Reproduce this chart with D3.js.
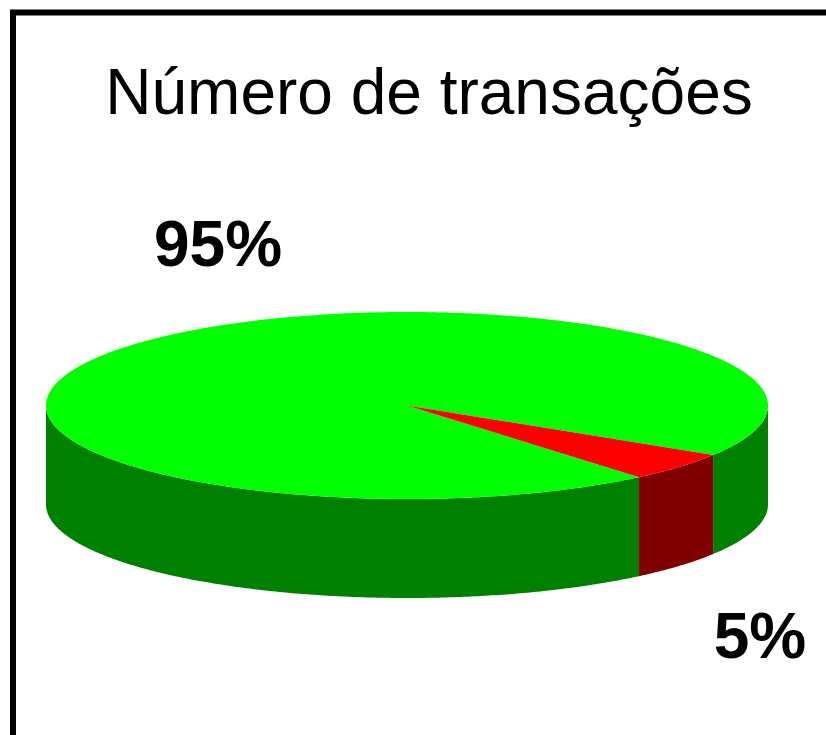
<!DOCTYPE html>
<html>
<head>
<meta charset="utf-8">
<script src="https://cdn.jsdelivr.net/npm/d3@7"></script>
<style>
html, body { margin: 0; padding: 0; background: #fff; overflow: hidden; }
svg { display: block; }
text { font-family: "Liberation Sans", Arial, sans-serif; fill: #000; }
</style>
</head>
<body>
<script>
const width = 826
const height = 735

const title = "Número de transações"
const categories = ["95%", "5%"]
const shares = [95, 5]
const topColors = ["#00ff00", "#ff0000"]
const sideColors = ["#008000", "#800000"]

const cx = 407, cy = 405.5, rx = 361, ry = 93.5, depth = 99
const redEnd = 140 * Math.PI / 180

const svg = d3.select("body").append("svg")
  .attr("width", width)
  .attr("height", height)

svg.append("rect")
  .attr("x", 13)
  .attr("y", 12.5)
  .attr("width", width + 20)
  .attr("height", height + 20)
  .attr("fill", "#fff")
  .attr("stroke", "#000")
  .attr("stroke-width", 6)

const pie = d3.pie().sort(null).startAngle(redEnd).endAngle(redEnd + 2 * Math.PI)
const slices = pie(shares)

const xs = d3.scaleLinear().domain([-1, 1]).range([cx - rx, cx + rx])
const ys = d3.scaleLinear().domain([-1, 1]).range([cy - ry, cy + ry])

const rim = a => [xs(Math.sin(a)), ys(-Math.cos(a))]
const line = d3.line()

// front wall: only the part of each slice facing the viewer
function wall(d) {
  const turn = 2 * Math.PI
  const parts = []
  for (const k of [-1, 0, 1]) {
    const a0 = Math.max(d.startAngle, Math.PI / 2 + k * turn)
    const a1 = Math.min(d.endAngle, 3 * Math.PI / 2 + k * turn)
    if (a1 <= a0) continue
    const angles = d3.range(a0, a1, 0.01).concat([a1])
    const top = angles.map(rim)
    const bottom = top.map(p => [p[0], p[1] + depth]).reverse()
    parts.push(line(top.concat(bottom)) + "Z")
  }
  return parts.join("")
}

svg.append("g")
  .selectAll("path")
  .data(slices)
  .join("path")
    .attr("d", wall)
    .attr("fill", (d, i) => sideColors[i])

function face(d) {
  const angles = d3.range(d.startAngle, d.endAngle, 0.01).concat([d.endAngle])
  return line([[cx, cy]].concat(angles.map(rim))) + "Z"
}

svg.append("g")
  .selectAll("path")
  .data(slices)
  .join("path")
    .attr("d", face)
    .attr("fill", (d, i) => topColors[i])

svg.append("text")
  .attr("x", 429)
  .attr("y", 114)
  .attr("text-anchor", "middle")
  .attr("font-size", 64)
  .text(title)

svg.selectAll("text.pct")
  .data(categories)
  .join("text")
    .attr("class", "pct")
    .attr("x", (d, i) => [218, 760][i])
    .attr("y", (d, i) => [266, 658][i])
    .attr("text-anchor", "middle")
    .attr("font-size", 64)
    .attr("font-weight", "bold")
    .text(d => d)
</script>
</body>
</html>
